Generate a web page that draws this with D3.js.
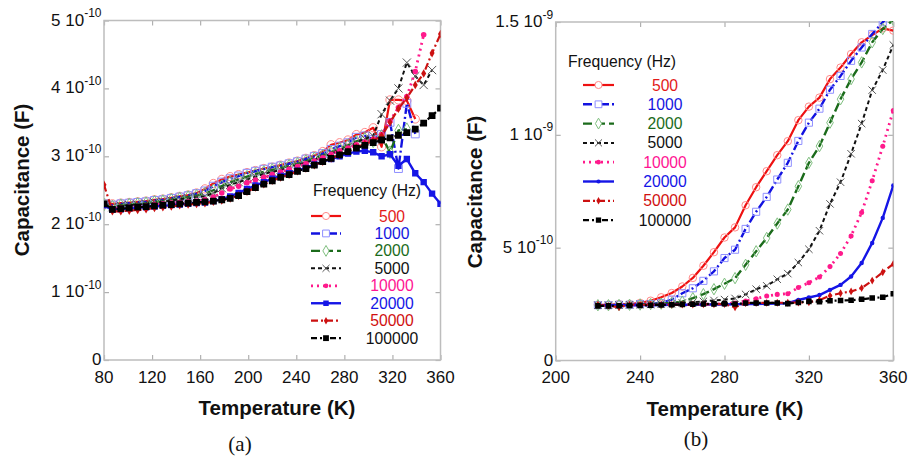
<!DOCTYPE html>
<html><head><meta charset="utf-8">
<script src="https://cdn.jsdelivr.net/npm/d3@7"></script>
<style>
html,body{margin:0;padding:0;background:#fff;}
text{font-family:"Liberation Sans",Arial,sans-serif;}
</style></head>
<body>
<svg id="chart" width="908" height="456"></svg>
<script>
// ---------------- DATA (capacitance in units of 1e-10 F) ----------------
const frequencies = ["500","1000","2000","5000","10000","20000","50000","100000"];

// Panel (a): 80 - 360 K
const tempsA = [80,87,94,101,108,115,122,129,136,143,150,157,164,171,178,185,192,199,206,213,220,227,234,241,248,255,262,269,276,283,290,297,304,311,318,325,332,339,346,353,360];
const capA_500    = [2.31,2.30,2.31,2.32,2.33,2.34,2.36,2.37,2.39,2.41,2.43,2.46,2.52,2.60,2.66,2.70,2.73,2.76,2.79,2.82,2.84,2.87,2.90,2.93,2.97,3.01,3.07,3.17,3.20,3.24,3.32,3.35,3.42,3.14,3.83,3.83,3.82,3.55,null,null,null];
const capA_1000   = [2.30,2.28,2.30,2.31,2.32,2.33,2.35,2.36,2.38,2.40,2.42,2.45,2.49,2.56,2.62,2.67,2.71,2.75,2.78,2.81,2.84,2.86,2.89,2.92,2.96,3.00,3.04,3.10,3.15,3.20,3.28,3.30,3.25,3.32,3.50,2.82,3.78,3.33,null,null,null];
const capA_2000   = [2.29,2.26,2.28,2.29,2.30,2.31,2.33,2.34,2.36,2.38,2.40,2.42,2.45,2.50,2.56,2.62,2.66,2.70,2.74,2.77,2.80,2.83,2.86,2.89,2.93,2.97,3.01,3.06,3.11,3.16,3.22,3.26,3.22,3.30,3.06,3.38,3.40,null,null,null,null];
const capA_5000   = [2.29,2.25,2.27,2.28,2.29,2.30,2.32,2.33,2.35,2.37,2.38,2.40,2.41,2.46,2.53,2.58,2.62,2.66,2.70,2.74,2.77,2.80,2.84,2.87,2.91,2.95,2.99,3.04,3.09,3.14,3.20,3.26,3.30,3.62,3.82,4.00,4.38,4.18,4.05,4.27,null];
const capA_10000  = [2.27,2.23,2.24,2.25,2.26,2.27,2.29,2.30,2.31,2.32,2.33,2.34,2.36,2.40,2.46,2.52,2.56,2.61,2.65,2.69,2.73,2.77,2.81,2.85,2.89,2.93,2.98,3.03,3.08,3.12,3.17,3.21,3.25,3.32,3.52,3.72,3.88,4.25,4.79,null,null];
const capA_20000  = [2.28,2.21,2.22,2.23,2.24,2.25,2.26,2.27,2.28,2.29,2.30,2.31,2.32,2.34,2.37,2.41,2.46,2.52,2.57,2.62,2.67,2.71,2.75,2.79,2.83,2.88,2.92,2.96,3.00,3.04,3.07,3.08,3.06,3.00,3.03,2.86,2.96,2.75,2.62,2.45,2.30];
const capA_50000  = [2.58,2.19,2.19,2.20,2.21,2.22,2.24,2.25,2.26,2.28,2.29,2.30,2.31,2.33,2.35,2.38,2.42,2.48,2.54,2.59,2.64,2.69,2.73,2.78,2.82,2.87,2.92,2.97,3.02,3.07,3.13,3.18,3.23,3.30,3.50,3.70,3.86,4.05,4.22,4.52,4.80];
const capA_100000 = [2.30,2.22,2.23,2.24,2.25,2.26,2.27,2.28,2.29,2.30,2.31,2.32,2.33,2.34,2.36,2.38,2.42,2.48,2.54,2.59,2.64,2.69,2.73,2.78,2.82,2.87,2.92,2.97,3.02,3.07,3.12,3.16,3.20,3.24,3.27,3.31,3.35,3.40,3.49,3.60,3.71];

// Panel (b): 220 - 360 K
const tempsB = [220,225,230,235,240,245,250,255,260,265,270,275,280,285,290,295,300,305,310,315,320,325,330,335,340,345,350,355,360];
const capB_500    = [2.47,2.47,2.50,2.50,2.55,2.65,2.80,2.99,3.28,3.66,4.20,4.80,5.45,5.90,6.88,7.68,8.39,9.10,9.72,10.65,11.25,11.65,12.47,12.98,13.58,14.10,14.42,14.72,14.62];
const capB_1000   = [2.45,2.45,2.47,2.47,2.50,2.50,2.55,2.70,2.98,3.20,3.53,3.95,4.54,4.91,5.83,6.59,7.25,8.02,8.76,9.73,10.54,11.16,12.00,12.61,13.28,13.87,14.47,14.99,15.50];
const capB_2000   = [2.45,2.45,2.46,2.47,2.48,2.50,2.52,2.55,2.61,2.76,2.94,3.16,3.40,3.65,4.24,4.84,5.43,6.07,6.69,7.72,8.76,9.50,10.54,11.58,12.47,13.21,14.10,14.69,15.10];
const capB_5000   = [2.45,2.45,2.46,2.47,2.48,2.49,2.50,2.52,2.55,2.58,2.62,2.66,2.70,2.75,2.93,3.16,3.31,3.60,3.85,4.34,4.93,5.75,6.94,7.90,9.16,10.50,11.98,12.87,13.98];
const capB_10000  = [2.45,2.45,2.45,2.46,2.46,2.47,2.47,2.48,2.48,2.49,2.50,2.50,2.52,2.55,2.64,2.74,2.86,2.93,2.96,3.23,3.45,3.70,4.16,4.74,5.52,6.56,7.96,9.49,11.08];
const capB_20000  = [2.45,2.45,2.45,2.45,2.46,2.46,2.46,2.47,2.47,2.47,2.48,2.48,2.48,2.49,2.50,2.50,2.51,2.52,2.54,2.68,2.79,2.90,3.13,3.35,3.72,4.32,5.21,6.32,7.76];
const capB_50000  = [2.47,2.42,2.36,2.47,2.47,2.47,2.47,2.48,2.48,2.48,2.49,2.49,2.50,2.36,2.54,2.55,2.55,2.56,2.56,2.57,2.58,2.68,2.87,2.98,3.06,3.21,3.54,3.91,4.28];
const capB_100000 = [2.42,2.42,2.43,2.44,2.44,2.45,2.46,2.47,2.48,2.49,2.50,2.51,2.52,2.50,2.55,2.55,2.55,2.55,2.52,2.57,2.62,2.60,2.65,2.66,2.67,2.71,2.77,2.80,2.96];

// Tick labels
const xTicksA = [80,120,160,200,240,280,320,360];
const yTicksA = [0,1,2,3,4,5];
const yMantA  = ["0","1 10","2 10","3 10","4 10","5 10"];
const yExpA   = ["","-10","-10","-10","-10","-10"];
const xTicksB = [200,240,280,320,360];
const yTicksB = [0,5,10,15];
const yMantB  = ["0","5 10","1 10","1.5 10"];
const yExpB   = ["","-10","-9","-9"];

const legendTitle = "Frequency (Hz)";
const xTitle = "Temperature (K)";
const yTitle = "Capacitance (F)";

// ---------------- STYLES ----------------
const styles = [
  {line:"#ee1111", dash:null,            width:2.2, sym:d3.symbolCircle,  size:40, fill:"none",   stroke:"#ff8a8a", text:"#e31a1a"},
  {line:"#1212e0", dash:"9,3,2,3",       width:2.4, sym:d3.symbolSquare,  size:46, fill:"none",   stroke:"#8f8fff", text:"#1515e0"},
  {line:"#1b6b1b", dash:"9,4",           width:2.4, sym:d3.symbolDiamond, size:34, fill:"none",   stroke:"#7fbf7f", text:"#1b6b1b"},
  {line:"#111111", dash:"4,3",           width:2,   sym:d3.symbolTimes,   size:34, fill:"none",   stroke:"#555555", text:"#111111"},
  {line:"#ff1a8c", dash:"2,4",           width:2.8, sym:d3.symbolCircle,  size:18, fill:"#ff1a8c",stroke:"none",    text:"#ff1493"},
  {line:"#1515e6", dash:null,            width:2.4, sym:d3.symbolSquare,  size:30, fill:"#1515e6",stroke:"none",    text:"#1515e6"},
  {line:"#cc1111", dash:"7,3,2,3",       width:2.2, sym:d3.symbolDiamond, size:16, fill:"#cc1111",stroke:"none",    text:"#d01010"},
  {line:"#000000", dash:"6,3,2,3,2,3",   width:2.2, sym:d3.symbolSquare,  size:34, fill:"#000000",stroke:"none",    text:"#111111"}
];

const svg = d3.select("#chart");
svg.append("rect").attr("width",908).attr("height",456).attr("fill","#fff");

function drawPanel(cfg){
  const x = d3.scaleLinear().domain(cfg.xDomain).range([cfg.left, cfg.right]);
  const y = d3.scaleLinear().domain(cfg.yDomain).range([cfg.bottom, cfg.top]);
  const g = svg.append("g");
  const clipId = "clip"+cfg.id;
  svg.append("clipPath").attr("id",clipId).append("rect")
    .attr("x",cfg.left).attr("y",cfg.top-1).attr("width",cfg.right-cfg.left).attr("height",cfg.bottom-cfg.top+1);

  const tickCol = "#b0b0b0";
  const axB = g.append("g").attr("transform",`translate(0,${cfg.bottom})`)
    .call(d3.axisBottom(x).tickValues(cfg.xTicks).tickSize(-5).tickSizeOuter(0).tickFormat(""));
  const axT = g.append("g").attr("transform",`translate(0,${cfg.top})`)
    .call(d3.axisTop(x).tickValues(cfg.xTicks).tickSize(-5).tickSizeOuter(0).tickFormat(""));
  const axL = g.append("g").attr("transform",`translate(${cfg.left},0)`)
    .call(d3.axisLeft(y).tickValues(cfg.yTicks).tickSize(-5).tickSizeOuter(0).tickFormat(""));
  const axR = g.append("g").attr("transform",`translate(${cfg.right},0)`)
    .call(d3.axisRight(y).tickValues(cfg.yTicks).tickSize(-5).tickSizeOuter(0).tickFormat(""));
  [axB,axT,axL,axR].forEach(a=>{ a.select(".domain").remove(); a.selectAll("line").attr("stroke",tickCol).attr("stroke-width",1.2); });
  g.append("rect").attr("x",cfg.left).attr("y",cfg.top).attr("width",cfg.right-cfg.left).attr("height",cfg.bottom-cfg.top)
    .attr("fill","none").attr("stroke","#bdbdbd").attr("stroke-width",1.5);

  g.selectAll(".xl").data(cfg.xTicks).enter().append("text")
    .attr("x",d=>x(d)).attr("y",383).attr("text-anchor","middle")
    .attr("font-size",17).attr("fill","#111").text(d=>d);
  cfg.yTicks.forEach((v,i)=>{
    const t = g.append("text").attr("x",cfg.left-2.5).attr("y",y(v)+5).attr("text-anchor","end")
      .attr("font-size",17).attr("fill","#111");
    t.append("tspan").text(cfg.yMant[i]);
    if(cfg.yExp[i]) t.append("tspan").attr("font-size",12).attr("dy",-8.5).text(cfg.yExp[i]);
  });
  g.append("text").attr("x",cfg.xTitleX).attr("y",cfg.xTitleY).attr("text-anchor","middle")
    .attr("font-size",20.5).attr("font-weight","bold").attr("fill","#111").text(xTitle);
  g.append("text").attr("transform",`translate(${cfg.yTitleX},${cfg.yTitleY}) rotate(-90)`).attr("text-anchor","middle")
    .attr("font-size",20.5).attr("font-weight","bold").attr("fill","#111").text(yTitle);
  g.append("text").attr("x",cfg.capX).attr("y",cfg.capY).attr("text-anchor","middle")
    .attr("font-size",21).attr("fill","#111").style("font-family","'Liberation Serif','Times New Roman',serif").text(cfg.caption);

  const plot = g.append("g").attr("clip-path",`url(#${clipId})`);
  cfg.series.forEach((vals,si)=>{
    const st = cfg.styles[si];
    const pts = cfg.temps.map((t,i)=>({t:t,v:vals[i]})).filter(d=>d.v!=null);
    const line = d3.line().x(d=>x(d.t)).y(d=>y(d.v));
    plot.append("path").datum(pts).attr("d",line).attr("fill","none")
      .attr("stroke",st.line).attr("stroke-width",st.width)
      .attr("stroke-dasharray",st.dash).attr("stroke-linejoin","round");
    const sym = d3.symbol().type(st.sym).size(st.size*cfg.markScale);
    plot.selectAll(null).data(pts).enter().append("path")
      .attr("transform",d=>`translate(${x(d.t)},${y(d.v)})`).attr("d",sym)
      .attr("fill",st.fill).attr("stroke",st.stroke)
      .attr("stroke-width",st.fill==="none"?1:0);
  });

  const L = cfg.legend;
  g.append("text").attr("x",L.titleX).attr("y",L.titleY).attr("text-anchor","middle")
    .attr("font-size",15.7).attr("fill","#111").text(legendTitle);
  frequencies.forEach((f,i)=>{
    const st = cfg.styles[i];
    const yy = L.row0 + i*L.step;
    g.append("line").attr("x1",L.x1).attr("x2",L.x2).attr("y1",yy).attr("y2",yy)
      .attr("stroke",st.line).attr("stroke-width",st.width).attr("stroke-dasharray",st.dash);
    g.append("path").attr("transform",`translate(${(L.x1+L.x2)/2},${yy})`)
      .attr("d",d3.symbol().type(st.sym).size(st.size))
      .attr("fill",st.fill==="none"?"#fff":st.fill).attr("stroke",st.stroke).attr("stroke-width",st.fill==="none"?1:0);
    g.append("text").attr("x",L.textX).attr("y",yy+5.5).attr("text-anchor","middle")
      .attr("font-size",15.7).attr("fill",st.text).text(f);
  });
}

const stylesB = styles.map((s,i)=> i===5 ? Object.assign({},s,{sym:d3.symbolCircle,size:14}) : (i===7? Object.assign({},s,{size:28}) : s));

drawPanel({
  id:"A", left:104, right:440.5, top:20.5, bottom:360, xDomain:[80,360], yDomain:[0,5],
  xTicks:xTicksA, yTicks:yTicksA, yMant:yMantA, yExp:yExpA,
  xTitleX:277, xTitleY:415, yTitleX:28.5, yTitleY:180, capX:240, capY:451, caption:"(a)",
  temps:tempsA, series:[capA_500,capA_1000,capA_2000,capA_5000,capA_10000,capA_20000,capA_50000,capA_100000],
  styles:styles, markScale:1.35,
  legend:{titleX:367, titleY:196, row0:216, step:17.45, x1:311, x2:341, textX:392}
});
drawPanel({
  id:"B", left:555.7, right:893.3, top:22, bottom:360.5, xDomain:[200,360], yDomain:[0,15],
  xTicks:xTicksB, yTicks:yTicksB, yMant:yMantB, yExp:yExpB,
  xTitleX:725, xTitleY:415.5, yTitleX:482, yTitleY:192, capX:696, capY:446, caption:"(b)",
  temps:tempsB, series:[capB_500,capB_1000,capB_2000,capB_5000,capB_10000,capB_20000,capB_50000,capB_100000],
  styles:stylesB, markScale:1.1,
  legend:{titleX:622, titleY:67, row0:85, step:19.3, x1:583, x2:614, textX:665}
});
</script>
</body></html>
